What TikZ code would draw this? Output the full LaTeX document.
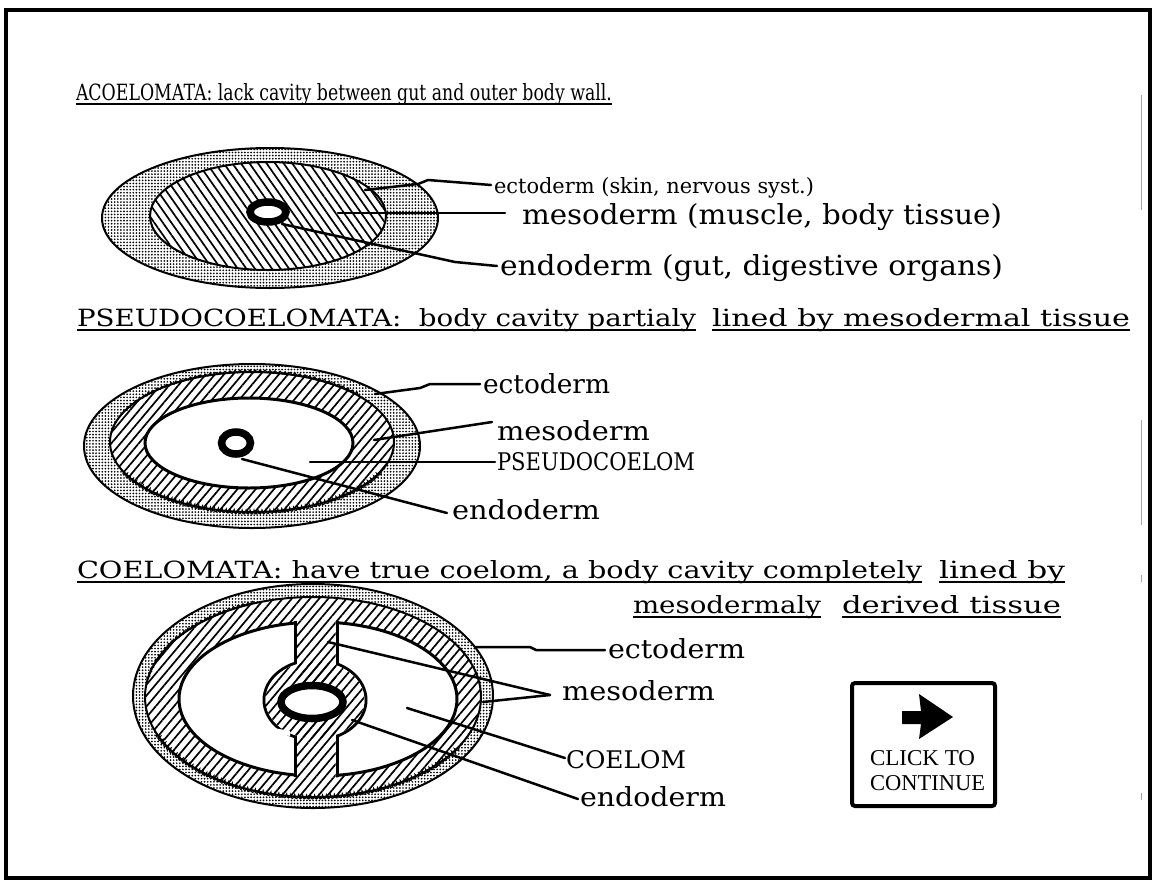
\documentclass[tikz,border=0pt]{standalone}
\usepackage{fontspec}
\setmainfont{DejaVu Serif}
\newfontfamily\signfont{Liberation Serif}
\usepackage{graphicx}
\usetikzlibrary{calc,patterns.meta,decorations.pathmorphing}

% text squeezed or stretched to a given width and height (in pt)
\newcommand\fitto[3]{\resizebox{#1pt}{#2pt}{#3}}

\tikzset{
  lbl/.style={anchor=base west, inner sep=0pt, outer sep=0pt},
  uline/.style={line width=1.8pt},
  conn/.style={line width=2.5pt, line cap=round, line join=round},
  rim/.style={line width=2pt},
  stipple/.style={pattern={Dots[radius=0.95pt,distance=3.1pt]}},
  hatchA/.style={pattern={Lines[angle=-55,distance=7pt,line width=1.7pt]}},
  hatch/.style={pattern={Lines[angle=50,distance=7pt,line width=1.7pt]}},
  gut/.style={line width=7.5pt, fill=white},
  chain/.style={line width=1.1pt, decorate,
    decoration={coil, amplitude=2pt, segment length=4pt}},
  ripple/.style={line width=1.1pt, decorate,
    decoration={snake, amplitude=1.2pt, segment length=5pt}},
}

\begin{document}
\begin{tikzpicture}[x=1pt,y=-1pt]
\useasboundingbox (0,0) rectangle (1155,881);
\fill[white] (0,0) rectangle (1155,881);
\draw[line width=3.5pt] (6,10) rectangle (1150,878);

% ---------------- ACOELOMATA ----------------
\node[lbl] (h1) at (76,100) {\fitto{536}{17}{ACOELOMATA: lack cavity between gut and outer body wall.}};
\draw[uline] ($(h1.base west)+(0,4)$) -- ($(h1.base east)+(0,4)$);

\draw[rim, stipple] (270,218) ellipse [x radius=168pt, y radius=70pt];
\fill[white] (268,216) ellipse [x radius=118pt, y radius=54pt];
\draw[rim, hatchA] (268,216) ellipse [x radius=118pt, y radius=54pt];
\draw[gut] (268,212) ellipse [x radius=18pt, y radius=10pt];

\node[lbl] (ectoA) at (494,193) {\fitto{320}{16}{ectoderm (skin, nervous syst.)}};
\node[lbl] (mesoA) at (522,224) {\fitto{480}{21}{mesoderm (muscle, body tissue)}};
\node[lbl] (endoA) at (500,275) {\fitto{503}{21}{endoderm (gut, digestive organs)}};

\coordinate (aEc) at (365,190);
\coordinate (aMe) at (338,213);
\coordinate (aEn) at (282,224);
\draw[conn] (aEc) -- (418,184) -- (428,180) -- ($(ectoA.base west)+(-3,-8)$);
\draw[conn] (aMe) -- ($(mesoA.base west)+(-17,-11)$);
\draw[conn] (aEn) -- (455,262) -- ($(endoA.base west)+(-3,-9)$);

% ---------------- PSEUDOCOELOMATA ----------------
\node[lbl] (h2a) at (77,326) {\fitto{619}{18}{PSEUDOCOELOMATA:\ \ body cavity partialy}};
\node[lbl] (h2b) at (712,326) {\fitto{418}{18}{lined by mesodermal tissue}};
\draw[uline] ($(h2a.base west)+(0,4)$) -- ($(h2a.base east)+(0,4)$);
\draw[uline] ($(h2b.base west)+(0,4)$) -- ($(h2b.base east)+(0,4)$);

\draw[rim, stipple] (252,446) ellipse [x radius=168pt, y radius=82pt];
\fill[white] (252,442) ellipse [x radius=142pt, y radius=70pt];
\draw[rim, hatch] (252,442) ellipse [x radius=142pt, y radius=70pt];
\draw[chain] ($(252,442)+({142*cos(25)},{70*sin(25)})$)
  arc[start angle=25, end angle=155, x radius=142, y radius=70];
\draw[ripple] ($(252,442)+({142*cos(205)},{70*sin(205)})$)
  arc[start angle=205, end angle=320, x radius=142, y radius=70];
\draw[line width=3pt, fill=white] (249,443) ellipse [x radius=104pt, y radius=45pt];
\draw[gut] (236,443) ellipse [x radius=14.5pt, y radius=11pt];

\node[lbl] (ectoB) at (483,393) {\fitto{127}{20}{ectoderm}};
\node[lbl] (mesoB) at (497,440) {\fitto{153}{20}{mesoderm}};
\node[lbl] (pseuB) at (497,470) {\fitto{198}{18}{PSEUDOCOELOM}};
\node[lbl] (endoB) at (452,519) {\fitto{148}{20}{endoderm}};

\coordinate (bEc) at (375,394);
\coordinate (bMe) at (374,440);
\coordinate (bPs) at (310,462);
\coordinate (bEn) at (242,459);
\draw[conn] (bEc) -- (420,388) -- (430,384) -- ($(ectoB.base west)+(-3,-9)$);
\draw[conn] (bMe) -- ($(mesoB.base west)+(-5,-18)$);
\draw[conn] (bPs) -- ($(pseuB.base west)+(-2,-8)$);
\draw[conn] (bEn) -- ($(endoB.base west)+(-5,-6)$);

% ---------------- COELOMATA ----------------
\node[lbl] (h3a) at (77,578) {\fitto{845}{18}{COELOMATA: have true coelom, a body cavity completely}};
\node[lbl] (h3b) at (939,578) {\fitto{126}{18}{lined by}};
\node[lbl] (h3c) at (633,613) {\fitto{188}{18}{mesodermaly}};
\node[lbl] (h3d) at (842,613) {\fitto{219}{18}{derived tissue}};
\foreach \h in {h3a,h3b,h3c,h3d}
  \draw[uline] ($(\h.base west)+(0,4)$) -- ($(\h.base east)+(0,4)$);

\draw[rim, stipple] (313,696) ellipse [x radius=180pt, y radius=112pt];
\fill[white] (313,697) ellipse [x radius=168pt, y radius=100pt];
\draw[rim, hatch] (313,697) ellipse [x radius=168pt, y radius=100pt];
\draw[chain] ($(313,697)+({168*cos(30)},{100*sin(30)})$)
  arc[start angle=30, end angle=160, x radius=168, y radius=100];
\draw[ripple] ($(313,697)+({168*cos(190)},{100*sin(190)})$)
  arc[start angle=190, end angle=250, x radius=168, y radius=100];
\draw[line width=3pt, fill=white] (318,699) ellipse [x radius=139pt, y radius=77pt];
% mesentery and the tissue round the gut, merged with the body wall
\begin{scope}
  \clip (318,699) ellipse [x radius=141pt, y radius=79pt];
  \draw[line width=3pt] (295,600) rectangle (337,800);
  \draw[line width=3pt] (315,700) ellipse [x radius=51pt, y radius=40pt];
  \fill[white] (296.5,600) rectangle (335.5,800);
  \fill[white] (315,700) ellipse [x radius=49.5pt, y radius=38.5pt];
  \fill[hatch] (296.5,600) rectangle (335.5,800);
  \fill[hatch] (315,700) ellipse [x radius=49.5pt, y radius=38.5pt];
\end{scope}
\fill[white] (268,727) -- (290,731) -- (290,736) -- (266,731) -- cycle;
\draw[gut] (312,702) ellipse [x radius=31pt, y radius=16.5pt];

\node[lbl] (ectoC) at (608,658) {\fitto{137}{20}{ectoderm}};
\node[lbl] (mesoC) at (562,700) {\fitto{153}{20}{mesoderm}};
\node[lbl] (coelC) at (566,768) {\fitto{120}{18}{COELOM}};
\node[lbl] (endoC) at (580,806) {\fitto{146}{20}{endoderm}};

\coordinate (cEc) at (475,647);
\coordinate (cMa) at (328,642);
\coordinate (cMb) at (483,702);
\coordinate (cMt) at (550,695);
\coordinate (cCo) at (407,708);
\coordinate (cEn) at (352,720);
\draw[conn] (cEc) -- (530,647) -- (536,650) -- ($(ectoC.base west)+(-3,-8)$);
\draw[conn] (cMa) -- (cMt);
\draw[conn] (cMb) -- (cMt);
\draw[conn] (cCo) -- ($(coelC.base west)+(-1,-10)$);
\draw[conn] (cEn) -- ($(endoC.base west)+(-2,-7)$);

% ---------------- continue button ----------------
\draw[line width=4pt, rounded corners=3pt] (852,683) rectangle (995,806);
\node[lbl] (click) at (870,765) {\signfont\fitto{105}{15}{CLICK TO}};
\node[lbl] (cont) at (870,790) {\signfont\fitto{115}{15}{CONTINUE}};
\fill (902,711) -- (921,711) -- (919,694) -- (953,717) -- (919,739) -- (921,724) -- (902,724) -- cycle;

% faint marks along the right edge
\draw[black!35, line width=0.8pt] (1141,95) -- (1141,210);
\draw[black!35, line width=0.8pt] (1141,420) -- (1141,525);
\draw[black!35, line width=0.8pt] (1141,575) -- (1141,582);
\draw[black!35, line width=0.8pt] (1141,793) -- (1141,800);
\end{tikzpicture}
\end{document}
